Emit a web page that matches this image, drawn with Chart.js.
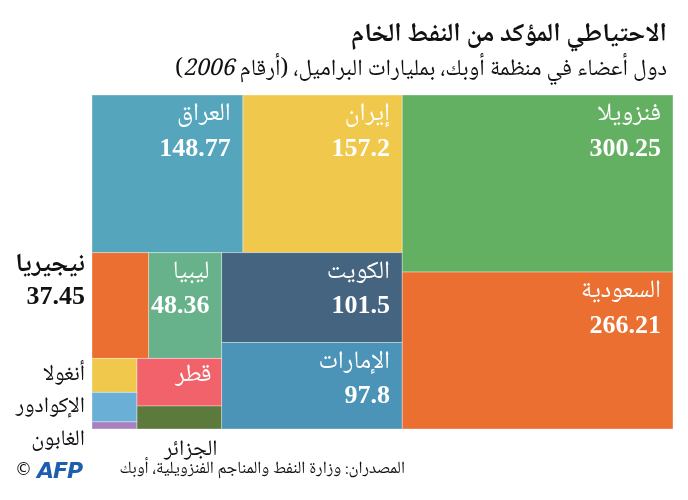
<!DOCTYPE html>
<html lang="ar">
<head>
<meta charset="utf-8">
<script src="https://cdn.jsdelivr.net/npm/chart.js@4.4.1/dist/chart.umd.min.js"></script>
<style>
  body { margin: 0; background: #fff; }
  #wrap { position: relative; width: 688px; height: 500px; }
  .txt { position: absolute; direction: rtl; font-family: "Noto Naskh Arabic", "DejaVu Sans", sans-serif; color: #111; white-space: nowrap; line-height: 1.2; }
  #titre { right: 21px; top: 20px; font-size: 26px; font-weight: bold; }
  #sous { right: 21px; top: 57px; font-size: 23px; }
  #source { right: 283px; top: 460px; font-size: 17px; }
  #afp { left: 37px; top: 458px; font: italic bold 22px "DejaVu Sans", sans-serif; color: #1d5fae; direction: ltr; letter-spacing: -1px; }
  #copy { left: 15px; top: 459px; font: 17px "DejaVu Sans", sans-serif; direction: ltr; }
</style>
</head>
<body>
<div id="wrap">
  <canvas id="graficoArvore"></canvas>
  <div class="txt" id="titre">الاحتياطي المؤكد من النفط الخام</div>
  <div class="txt" id="sous">دول أعضاء في منظمة أوبك، بمليارات البراميل، (أرقام <i>2006</i>)</div>
  <div class="txt" id="source">المصدران: وزارة النفط والمناجم الفنزويلية، أوبك</div>
  <div class="txt" id="afp">AFP</div>
  <div class="txt" id="copy">©</div>
</div>
<script>
const paises = ['فنزويلا', 'السعودية', 'إيران', 'العراق', 'الكويت', 'الإمارات', 'ليبيا', 'نيجيريا', 'قطر', 'الجزائر', 'أنغولا', 'الإكوادور', 'الغابون'];
const reservas = [300.25, 266.21, 157.2, 148.77, 101.5, 97.8, 48.36, 37.45, 25.24, 12.2, 9.52, 8.27, 2.0];
const rotulos = ['300.25', '266.21', '157.2', '148.77', '101.5', '97.8', '48.36', '37.45', '', '', '', '', ''];
const cores = ['#64b062', '#ea6f30', '#efc84c', '#55a5bd', '#44647f', '#4b93b7', '#67b28b', '#ea6f30', '#f2626b', '#5c7a3c', '#efc84c', '#6aafd6', '#a780c0'];

// arvore de divisao: 'h' = lado a lado, 'v' = empilhado (indices de paises)
const arvore = ['h',
  ['v',
    ['h', 3, 2],
    ['h',
      ['v',
        ['h', 7, 6],
        ['h', ['v', 10, 11, 12], ['v', 8, 9]]
      ],
      ['v', 4, 5]
    ]
  ],
  ['v', 0, 1]
];

function soma(no) {
  if (typeof no === 'number') return reservas[no];
  return no.slice(1).reduce((acc, f) => acc + soma(f), 0);
}

function calcularCelulas(no, x0, y0, x1, y1, saida) {
  if (typeof no === 'number') {
    saida[no] = { x0, y0, x1, y1 };
    return saida;
  }
  const total = soma(no);
  let pos = no[0] === 'h' ? x0 : y0;
  no.slice(1).forEach(f => {
    const frac = soma(f) / total;
    if (no[0] === 'h') {
      const fim = pos + (x1 - x0) * frac;
      calcularCelulas(f, pos, y0, fim, y1, saida);
      pos = fim;
    } else {
      const fim = pos + (y1 - y0) * frac;
      calcularCelulas(f, x0, pos, x1, fim, saida);
      pos = fim;
    }
  });
  return saida;
}

const celulas = calcularCelulas(arvore, 0, 0, 1, 1, []);

const fonteAr = '"Noto Naskh Arabic", "DejaVu Sans", sans-serif';
const fonteNum = '"Liberation Serif", "DejaVu Serif", serif';

const pluginArvore = {
  id: 'arvore',
  beforeDatasetsDraw(chart) {
    const { ctx, scales: { x, y } } = chart;
    ctx.save();
    celulas.forEach((c, i) => {
      const px0 = x.getPixelForValue(c.x0), px1 = x.getPixelForValue(c.x1);
      const py0 = y.getPixelForValue(c.y0), py1 = y.getPixelForValue(c.y1);
      ctx.fillStyle = cores[i];
      ctx.fillRect(px0, py0, px1 - px0, py1 - py0);
      ctx.strokeStyle = 'rgba(255,255,255,0.35)';
      ctx.lineWidth = 1;
      ctx.strokeRect(px0, py0, px1 - px0, py1 - py0);
    });

    ctx.textBaseline = 'middle';
    ctx.direction = 'rtl';
    celulas.forEach((c, i) => {
      const px0 = x.getPixelForValue(c.x0), px1 = x.getPixelForValue(c.x1);
      const py0 = y.getPixelForValue(c.y0), py1 = y.getPixelForValue(c.y1);
      if (reservas[i] > 40 && i !== 7) {
        ctx.fillStyle = '#fff';
        ctx.textAlign = 'right';
        ctx.font = '25px ' + fonteAr;
        ctx.fillText(paises[i], px1 - 12, py0 + 22);
        ctx.font = 'bold 26px ' + fonteNum;
        ctx.fillText(rotulos[i], px1 - 12, py0 + 54);
      } else if (i === 8) {
        ctx.fillStyle = '#fff';
        ctx.textAlign = 'right';
        ctx.font = '25px ' + fonteAr;
        ctx.fillText(paises[i], px1 - 10, (py0 + py1) / 2 - 4);
      } else if (i === 7) {
        ctx.fillStyle = '#111';
        ctx.textAlign = 'right';
        ctx.font = 'bold 26px ' + fonteAr;
        ctx.fillText(paises[i], px0 - 7, py0 + 15);
        ctx.font = 'bold 26px ' + fonteNum;
        ctx.fillText(rotulos[i], px0 - 7, py0 + 45);
      } else if (i === 9) {
        ctx.fillStyle = '#111';
        ctx.textAlign = 'right';
        ctx.font = '22px ' + fonteAr;
        ctx.fillText(paises[i], px1 - 4, py1 + 23);
      } else {
        ctx.fillStyle = '#111';
        ctx.textAlign = 'right';
        ctx.font = '22px ' + fonteAr;
        const yc = i === 12 ? py1 + 13 : (py0 + py1) / 2 + 2;
        ctx.fillText(paises[i], px0 - 7, yc);
      }
    });
    ctx.restore();
  }
};

new Chart(document.getElementById('graficoArvore'), {
  type: 'scatter',
  data: {
    datasets: [{
      data: celulas.map(c => ({ x: (c.x0 + c.x1) / 2, y: (c.y0 + c.y1) / 2 })),
      pointRadius: 0
    }]
  },
  options: {
    responsive: true, maintainAspectRatio: false, animation: false,
    layout: { padding: { left: 92, right: 15, top: 95, bottom: 71 } },
    plugins: { legend: { display: false }, tooltip: { enabled: false } },
    scales: {
      x: { display: false, min: 0, max: 1 },
      y: { display: false, min: 0, max: 1, reverse: true }
    }
  },
  plugins: [pluginArvore]
});
</script>
</body>
</html>
